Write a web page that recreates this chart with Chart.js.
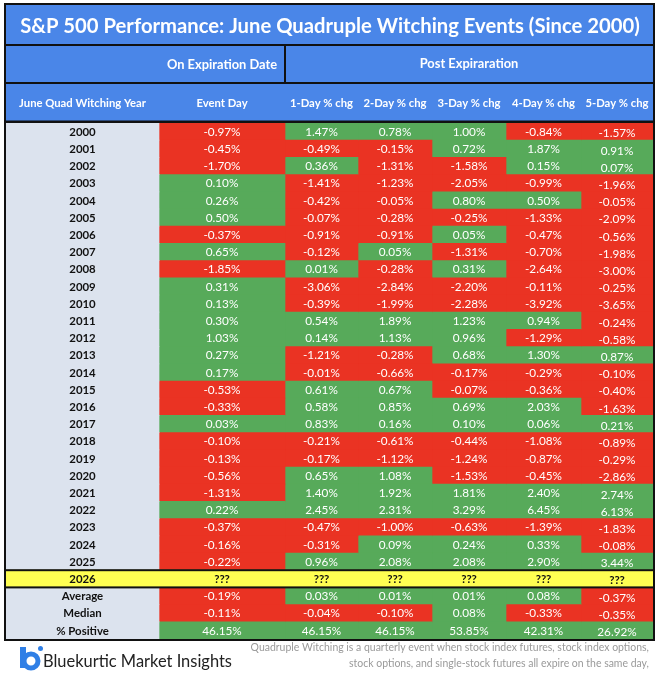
<!DOCTYPE html>
<html>
<head>
<meta charset="utf-8">
<script src="https://cdn.jsdelivr.net/npm/chart.js@4.4.1/dist/chart.umd.min.js"></script>
<style>
html,body{margin:0;padding:0;background:#ffffff;}
#wrap{position:relative;width:659px;height:680px;}
canvas{display:block;}
</style>
</head>
<body>
<div id="wrap"><canvas id="c" width="659" height="680"></canvas></div>
<script>
// ---------- DATA ----------
const years = ['2000','2001','2002','2003','2004','2005','2006','2007','2008','2009','2010','2011','2012',
  '2013','2014','2015','2016','2017','2018','2019','2020','2021','2022','2023','2024','2025'];
const eventDay = [-0.97,-0.45,-1.70,0.10,0.26,0.50,-0.37,0.65,-1.85,0.31,0.13,0.30,1.03,0.27,0.17,-0.53,-0.33,0.03,-0.10,-0.13,-0.56,-1.31,0.22,-0.37,-0.16,-0.22];
const day1 = [1.47,-0.49,0.36,-1.41,-0.42,-0.07,-0.91,-0.12,0.01,-3.06,-0.39,0.54,0.14,-1.21,-0.01,0.61,0.58,0.83,-0.21,-0.17,0.65,1.40,2.45,-0.47,-0.31,0.96];
const day2 = [0.78,-0.15,-1.31,-1.23,-0.05,-0.28,-0.91,0.05,-0.28,-2.84,-1.99,1.89,1.13,-0.28,-0.66,0.67,0.85,0.16,-0.61,-1.12,1.08,1.92,2.31,-1.00,0.09,2.08];
const day3 = [1.00,0.72,-1.58,-2.05,0.80,-0.25,0.05,-1.31,0.31,-2.20,-2.28,1.23,0.96,0.68,-0.17,-0.07,0.69,0.10,-0.44,-1.24,-1.53,1.81,3.29,-0.63,0.24,2.08];
const day4 = [-0.84,1.87,0.15,-0.99,0.50,-1.33,-0.47,-0.70,-2.64,-0.11,-3.92,0.94,-1.29,1.30,-0.29,-0.36,2.03,0.06,-1.08,-0.87,-0.45,2.40,6.45,-1.39,0.33,2.90];
const day5 = [-1.57,0.91,0.07,-1.96,-0.05,-2.09,-0.56,-1.98,-3.00,-0.25,-3.65,-0.24,-0.58,0.87,-0.10,-0.40,-1.63,0.21,-0.89,-0.29,-2.86,2.74,6.13,-1.83,-0.08,3.44];
const average = [-0.19,0.03,0.01,0.01,0.08,-0.37];
const median = [-0.11,-0.04,-0.10,0.08,-0.33,-0.35];
const pctPositive = [46.15,46.15,46.15,53.85,42.31,26.92];
const upcomingYear = '2026';
const statLabels = ['Average','Median','% Positive'];
const columnLabels = ['Event Day','1-Day % chg','2-Day % chg','3-Day % chg','4-Day % chg','5-Day % chg'];
const yearHeader = 'June Quad Witching Year';
const groupLabels = ['On Expiration Date','Post Expiraration'];
const titleText = 'S&P 500 Performance: June Quadruple Witching Events (Since 2000)';
const brandText = 'Bluekurtic Market Insights';
const noteLines = ['Quadruple Witching is a quarterly event when stock index futures, stock index options,',
  'stock options, and single-stock futures all expire on the same day,'];

// ---------- STYLE / LAYOUT ----------
const RED = '#EA3323', GREEN = '#57AA5A', LABEL_BG = '#DCE3EE', YELLOW = '#FFFF52', BLUE = '#4A86E8';
const FAMILY = "Lato, 'Open Sans', sans-serif";
const colEdges = [0,153,279,352,426,500,575,647]; // column boundaries in table units

const rowLabels = years.concat([upcomingYear], statLabels);
const valueCols = [eventDay, day1, day2, day3, day4, day5];

const datasets = [];
datasets.push({
  kind: 'label',
  data: rowLabels.map(() => [colEdges[0], colEdges[1]]),
  backgroundColor: rowLabels.map(r => r === upcomingYear ? YELLOW : LABEL_BG),
  texts: rowLabels
});
valueCols.forEach((vals, ci) => {
  const rowVals = vals.concat([null, average[ci], median[ci], pctPositive[ci]]);
  datasets.push({
    kind: 'value',
    col: ci,
    data: rowLabels.map(() => [colEdges[ci + 1], colEdges[ci + 2]]),
    backgroundColor: rowVals.map(v => v === null ? YELLOW : (v >= 0 ? GREEN : RED)),
    values: rowVals
  });
});

function fitFont(ctx, text, weight, targetW, k) {
  ctx.font = weight + ' 20px ' + FAMILY;
  const w = ctx.measureText(text).width;
  const size = 20 * targetW / w * (k || 1);
  return weight + ' ' + size.toFixed(2) + 'px ' + FAMILY;
}

const tablePlugin = {
  id: 'tablePlugin',
  afterDatasetsDraw(chart) {
    const ctx = chart.ctx;
    const valueFont = fitFont(ctx, '-0.84%', '400', 35, 1.06);
    const labelFont = fitFont(ctx, '2000', '700', 25, 1.06);
    ctx.save();
    ctx.textAlign = 'center';
    ctx.textBaseline = 'middle';
    chart.data.datasets.forEach((ds, di) => {
      const meta = chart.getDatasetMeta(di);
      meta.data.forEach((bar, ri) => {
        const p = bar.getProps(['x', 'y', 'base'], true);
        const cx = (p.x + p.base) / 2;
        let cy = p.y + 0.5;
        if (ds.kind === 'label') {
          ctx.font = labelFont;
          ctx.fillStyle = '#111';
          ctx.fillText(ds.texts[ri], cx, cy);
        } else {
          const v = ds.values[ri];
          if (ds.col === 5) cy += 1.5;
          if (v === null) {
            ctx.font = labelFont;
            ctx.fillStyle = '#111';
            ctx.fillText('???', cx, cy);
          } else {
            ctx.font = valueFont;
            ctx.fillStyle = '#ffffff';
            ctx.fillText(v.toFixed(2) + '%', cx, cy);
          }
        }
      });
    });
    // thick lines around upcoming-year row
    const ys = chart.scales.y;
    const area = chart.chartArea;
    const rh = area.height / rowLabels.length;
    const yc = ys.getPixelForValue(rowLabels.indexOf(upcomingYear));
    ctx.fillStyle = '#111';
    ctx.fillRect(area.left, yc - rh / 2 - 1, area.right - area.left, 2);
    ctx.fillRect(area.left, yc + rh / 2 - 1, area.right - area.left, 2);
    ctx.restore();
  },
  afterDraw(chart) {
    const ctx = chart.ctx;
    const area = chart.chartArea;
    const xs = chart.scales.x;
    ctx.save();
    // header block
    ctx.fillStyle = BLUE;
    ctx.fillRect(area.left, 5, area.right - area.left, area.top - 5);
    ctx.fillStyle = '#111';
    ctx.fillRect(area.left, 44, area.right - area.left, 2);
    ctx.fillRect(area.left, 82, area.right - area.left, 2);
    ctx.fillRect(area.left, 120.5, area.right - area.left, 2.5);
    const splitX = xs.getPixelForValue(colEdges[2]);
    ctx.fillRect(splitX - 1, 45, 2, 38);

    ctx.textAlign = 'center';
    ctx.textBaseline = 'middle';
    ctx.fillStyle = '#ffffff';
    ctx.font = fitFont(ctx, titleText, '700', 596, 1.04);
    ctx.fillText(titleText, 330, 26);

    ctx.font = fitFont(ctx, groupLabels[0], '700', 106, 1.04);
    const evC = (xs.getPixelForValue(colEdges[1]) + xs.getPixelForValue(colEdges[2])) / 2;
    ctx.fillText(groupLabels[0], evC, 65);
    const postC = (xs.getPixelForValue(colEdges[2]) + xs.getPixelForValue(colEdges[7])) / 2;
    ctx.fillText(groupLabels[1], postC, 64);

    ctx.font = fitFont(ctx, yearHeader, '700', 122, 1.04);
    ctx.fillText(yearHeader, (xs.getPixelForValue(colEdges[0]) + xs.getPixelForValue(colEdges[1])) / 2, 103);
    columnLabels.forEach((lab, i) => {
      const c = (xs.getPixelForValue(colEdges[i + 1]) + xs.getPixelForValue(colEdges[i + 2])) / 2;
      ctx.fillText(lab, c, 103);
    });

    // outer border
    ctx.strokeStyle = '#111';
    ctx.lineWidth = 2;
    ctx.strokeRect(area.left - 1, 4, area.right - area.left + 2, area.bottom - 4 + 1);

    // logo
    const LOGO = '#2F7FE6';
    ctx.fillStyle = LOGO;
    ctx.fillRect(20, 647, 6, 21);
    ctx.beginPath();
    ctx.strokeStyle = LOGO;
    ctx.lineWidth = 5;
    ctx.arc(31, 661, 7, 0, Math.PI * 2);
    ctx.stroke();
    ctx.beginPath();
    ctx.arc(40.5, 648.5, 2.5, 0, Math.PI * 2);
    ctx.fill();

    // brand text
    ctx.textAlign = 'left';
    ctx.fillStyle = '#222';
    ctx.font = fitFont(ctx, brandText, '400', 182, 1.04);
    ctx.fillText(brandText, 43, 662);

    // note
    ctx.textAlign = 'right';
    ctx.fillStyle = '#9A9A9A';
    ctx.font = fitFont(ctx, noteLines[0], '400', 391, 1.02);
    ctx.fillText(noteLines[0], 649, 648);
    ctx.fillText(noteLines[1], 649, 664);
    ctx.restore();
  }
};

new Chart(document.getElementById('c'), {
  type: 'bar',
  data: { labels: rowLabels, datasets: datasets },
  options: {
    responsive: false,
    animation: false,
    events: [],
    indexAxis: 'y',
    layout: { padding: { left: 6, right: 6, top: 123, bottom: 41 } },
    datasets: { bar: { grouped: false, barPercentage: 1, categoryPercentage: 1, borderWidth: 0 } },
    scales: {
      x: { type: 'linear', min: colEdges[0], max: colEdges[colEdges.length - 1], display: false },
      y: { type: 'category', display: false, offset: true }
    },
    plugins: { legend: { display: false }, tooltip: { enabled: false } }
  },
  plugins: [tablePlugin]
});
</script>
</body>
</html>
